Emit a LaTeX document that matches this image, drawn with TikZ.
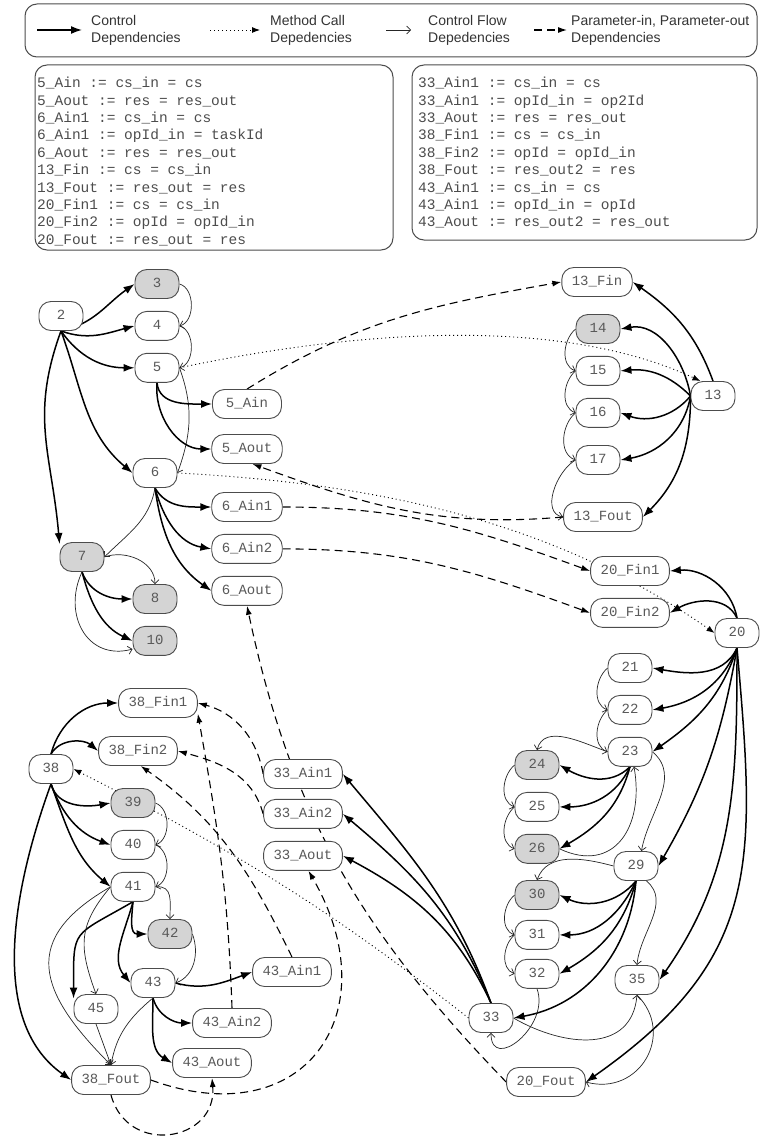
\documentclass[tikz,border=0pt]{standalone}
\usepackage{fontspec}
\setmainfont{Liberation Sans}
\newfontfamily\codefont{Liberation Mono}
\usetikzlibrary{arrows.meta,positioning}

\pgfdeclarelayer{edges}
\pgfsetlayers{edges,main}

\tikzset{
	stmt/.style={
		rectangle,
		rounded corners=12pt,
		draw=black!70,
		line width=0.9pt,
		fill=white,
		text=black!65,
		font=\codefont\fontsize{14}{16}\selectfont,
		minimum height=29pt,
		minimum width=44pt,
		inner xsep=10pt,
		text height=10pt,
		text depth=3pt,
	},
	marked/.style={
		stmt,
		fill=black!17,
	},
	actual/.style={
		stmt,
		minimum width=69pt,
	},
	frame/.style={
		rectangle,
		rounded corners=12pt,
		draw=black!70,
		line width=1pt,
	},
	codetext/.style={
		anchor=north west,
		inner sep=0pt,
		align=left,
		text=black!70,
		font=\codefont\fontsize{14.5}{17.4}\selectfont,
	},
	legtext/.style={
		anchor=west,
		inner sep=0pt,
		align=left,
		text=black!80,
		font=\fontsize{14}{17}\selectfont,
	},
	ctrl/.style={
		-{Latex[length=11pt,width=8pt]},
		line width=1.5pt,
	},
	call/.style={
		-{Latex[length=8pt,width=6pt]},
		line width=0.9pt,
		dash pattern=on 1pt off 3pt,
	},
	flow/.style={
		-{Straight Barb[length=4pt,width=8pt]},
		line width=0.7pt,
		black!85,
	},
	param/.style={
		-{Latex[length=9pt,width=6pt]},
		line width=1.1pt,
		dash pattern=on 8pt off 5pt,
	},
}

\begin{document}
\begin{tikzpicture}[x=1pt,y=1pt,node distance=12pt]
\useasboundingbox (0,0) rectangle (760,-1137);

% legend
\node[frame, minimum width=732pt, minimum height=53pt] (legend) at (391,-30.5) {};
\node[legtext] (lgA) at (91,-30) {Control\\Dependencies};
\node[legtext] (lgB) at (270,-30) {Method Call\\Depedencies};
\node[legtext] (lgC) at (428,-30) {Control Flow\\Depedencies};
\node[legtext] (lgD) at (571,-30) {Parameter-in, Parameter-out\\Dependencies};
\draw[ctrl] ([xshift=-54pt]lgA.west) -- ([xshift=-9pt]lgA.west);
\draw[call] ([xshift=-60pt]lgB.west) -- ([xshift=-10pt]lgB.west);
\draw[flow] ([xshift=-42pt]lgC.west) -- ([xshift=-17pt]lgC.west);
\draw[param] ([xshift=-37pt]lgD.west) -- ([xshift=-4pt]lgD.west);

% parameter bindings
\node[frame, minimum width=358pt, minimum height=185pt] (boxA) at (214,-157.5) {};
\node[codetext] (defsA) at (37,-77) {5\_Ain := cs\_in = cs\\
5\_Aout := res = res\_out\\
6\_Ain1 := cs\_in = cs\\
6\_Ain1 := opId\_in = taskId\\
6\_Aout := res = res\_out\\
13\_Fin := cs = cs\_in\\
13\_Fout := res\_out = res\\
20\_Fin1 := cs = cs\_in\\
20\_Fin2 := opId = opId\_in\\
20\_Fout := res\_out = res};
\node[frame, minimum width=345pt, minimum height=175pt] (boxB) at (584.5,-152.5) {};
\node[codetext] (defsB) at (418,-77) {33\_Ain1 := cs\_in = cs\\
33\_Ain1 := opId\_in = op2Id\\
33\_Aout := res = res\_out\\
38\_Fin1 := cs = cs\_in\\
38\_Fin2 := opId = opId\_in\\
38\_Fout := res\_out2 = res\\
43\_Ain1 := cs\_in = cs\\
43\_Ain1 := opId\_in = opId\\
43\_Aout := res\_out2 = res\_out};

% procedure of 2
\node[marked] (n3) at (157,-284) {3};
\node[stmt] (n2) at (61,-316) {2};
\node[stmt] (n4) [below=of n3] {4};
\node[stmt] (n5) [below=of n4] {5};
\node[actual] (a5in) at (247,-404) {5\_Ain};
\node[actual] (a5out) at (247,-449) {5\_Aout};
\node[stmt] (n6) at (155,-473) {6};
\node[actual] (a6in1) at (247,-507) {6\_Ain1};
\node[actual] (a6in2) [below=of a6in1] {6\_Ain2};
\node[actual] (a6out) [below=of a6in2] {6\_Aout};
\node[marked] (n7) at (82,-557) {7};
\node[marked] (n8) at (155,-599) {8};
\node[marked] (n10) [below=of n8] {10};

% procedure of 13
\node[actual] (f13in) at (597,-282) {13\_Fin};
\node[marked] (n14) at (598,-329) {14};
\node[stmt] (n15) [below=of n14] {15};
\node[stmt] (n16) [below=of n15] {16};
\node[stmt] (n17) at (598,-460) {17};
\node[actual] (f13out) at (603,-517) {13\_Fout};
\node[stmt] (n13) at (713,-396) {13};

% procedure of 20
\node[actual] (f20in1) at (630,-571) {20\_Fin1};
\node[actual] (f20in2) [below=of f20in1] {20\_Fin2};
\node[stmt] (n20) at (737,-633) {20};
\node[stmt] (n21) at (630,-668) {21};
\node[stmt] (n22) [below=of n21] {22};
\node[stmt] (n23) [below=of n22] {23};
\node[marked] (n24) at (537,-765) {24};
\node[stmt] (n25) [below=of n24] {25};
\node[marked] (n26) [below=of n25] {26};
\node[stmt] (n29) at (636,-866) {29};
\node[marked] (n30) at (537,-895) {30};
\node[stmt] (n31) [below=10pt of n30] {31};
\node[stmt] (n32) [below=9pt of n31] {32};
\node[stmt] (n35) at (637,-980) {35};
\node[stmt] (n33) at (491,-1018) {33};
\node[actual] (f20out) at (546,-1082) {20\_Fout};
\node[actual] (a33in1) at (303,-774) {33\_Ain1};
\node[actual] (a33in2) [below=10pt of a33in1] {33\_Ain2};
\node[actual] (a33out) [below=of a33in2] {33\_Aout};

% procedure of 38
\node[actual] (f38in1) at (158,-703) {38\_Fin1};
\node[actual] (f38in2) at (138,-751) {38\_Fin2};
\node[stmt] (n38) at (51,-769) {38};
\node[marked] (n39) at (133,-803) {39};
\node[stmt] (n40) [below=of n39] {40};
\node[stmt] (n41) [below=of n40] {41};
\node[marked] (n42) at (170,-934) {42};
\node[stmt] (n43) at (153,-983) {43};
\node[stmt] (n45) at (96,-1009) {45};
\node[actual] (a43in1) at (292,-972) {43\_Ain1};
\node[actual] (a43in2) at (232,-1023) {43\_Ain2};
\node[actual] (a43out) at (212,-1063) {43\_Aout};
\node[actual] (f38out) at (111,-1080) {38\_Fout};

\begin{pgfonlayer}{edges}
% node 2
\draw[ctrl] (n2.south) to[out=12,in=215] (n3.west);
\draw[ctrl] (n2.south) to[out=-20,in=195] (n4.west);
\draw[ctrl] (n2.south) to[out=-55,in=180] (n5.west);
\draw[ctrl] (n2.south) to[out=-70,in=140] (n6.west);
\draw[ctrl] (n2.south) to[out=-110,in=95,looseness=1.1] (n7.150);
\draw[flow] (n3.east) to[out=-15,in=15] (n4.east);
\draw[flow] (n4.east) to[out=-15,in=15] (n5.east);
\draw[flow] (n5.east) to[out=-70,in=70] (n6.east);

% nodes 5, 6, 7
\draw[ctrl] (n5.south) to[out=-85,in=180] (a5in.west);
\draw[ctrl] (n5.south) to[out=-95,in=180] (a5out.west);
\draw[ctrl] (n6.south) to[out=-60,in=180] (a6in1.west);
\draw[ctrl] (n6.south) to[out=-75,in=170] (a6in2.west);
\draw[ctrl] (n6.south) to[out=-82,in=145] (a6out.west);
\draw[flow] (n6.south) to[out=-100,in=45] (n7.east);
\draw[flow] (n7.east) to[out=20,in=90] (n8.north);
\draw[ctrl] (n7.south) to[out=-70,in=180] (n8.west);
\draw[ctrl] (n7.south) to[out=-75,in=155] (n10.west);
\draw[flow] (n7.south) to[out=-115,in=195,looseness=1.3] (n10.200);

% node 13
\draw[ctrl] (n13.north) to[out=110,in=-35] (f13in.east);
\draw[ctrl] (n13.west) to[out=100,in=10] (n14.east);
\draw[ctrl] (n13.west) to[out=135,in=5] (n15.east);
\draw[ctrl] (n13.west) to[out=-130,in=-20] (n16.east);
\draw[ctrl] (n13.west) to[out=-100,in=10] (n17.east);
\draw[ctrl] (n13.west) to[out=-90,in=45] (f13out.east);
\draw[flow] (n14.west) to[out=-140,in=160] (n15.west);
\draw[flow] (n15.west) to[out=-140,in=160] (n16.west);
\draw[flow] (n16.west) to[out=-140,in=160] (n17.west);
\draw[flow] (n17.west) to[out=-150,in=170] (f13out.west);

% calls
\draw[call] (n5.east) to[out=12,in=155,looseness=0.8] (n13.130);
\draw[call] (n6.east) to[out=-3,in=145,looseness=0.9] (n20.west);
\draw[call] (n33.west) to[out=142,in=-27] (n38.east);

% parameters of 5 and 6
\draw[param] (a5in.north) to[out=32,in=190] (f13in.west);
\draw[param] (f13out.west) to[out=185,in=-20] (a5out.-70);
\draw[param] (a6in1.east) to[out=0,in=160] (f20in1.west);
\draw[param] (a6in2.east) to[out=0,in=160] (f20in2.west);
\draw[param] (f20out.west) to[out=134,in=-78] (a6out.south);

% node 20
\draw[ctrl] (n20.north) to[out=100,in=5] (f20in1.east);
\draw[ctrl] (n20.north) to[out=115,in=30] (f20in2.east);
\draw[ctrl] (n20.south) to[out=-115,in=-10] (n21.east);
\draw[ctrl] (n20.south) to[out=-112,in=10] (n22.east);
\draw[ctrl] (n20.south) to[out=-108,in=35] (n23.east);
\draw[ctrl] (n20.south) to[out=-100,in=60] (n29.east);
\draw[ctrl] (n20.south) to[out=-90,in=55] (n35.east);
\draw[ctrl] (n20.south) to[out=-85,in=35,looseness=1.2] (f20out.east);
\draw[flow] (n21.west) to[out=-140,in=160] (n22.west);
\draw[flow] (n22.west) to[out=-140,in=160] (n23.west);
\draw[flow] (n23.west) to[out=160,in=75] (n24.north);
\draw[flow] (n23.east) to[out=-40,in=80] (n29.70);

% node 23
\draw[ctrl] (n23.south) to[out=-135,in=-30] (n24.east);
\draw[ctrl] (n23.south) to[out=-115,in=0] (n25.east);
\draw[ctrl] (n23.south) to[out=-105,in=30] (n26.east);
\draw[flow] (n24.west) to[out=-140,in=160] (n25.west);
\draw[flow] (n25.west) to[out=-140,in=160] (n26.west);
\draw[flow] (n26.east) to[out=-25,in=-80,looseness=1.4] (n23.-75);

% node 29
\draw[flow] (n29.west) to[out=165,in=70] (n30.north);
\draw[ctrl] (n29.south) to[out=-130,in=-25] (n30.east);
\draw[ctrl] (n29.south) to[out=-115,in=0] (n31.east);
\draw[ctrl] (n29.south) to[out=-105,in=30] (n32.east);
\draw[ctrl] (n29.south) to[out=-95,in=10] (n33.east);
\draw[flow] (n29.-55) to[out=-40,in=85] (n35.north);
\draw[flow] (n30.west) to[out=-140,in=160] (n31.west);
\draw[flow] (n31.west) to[out=-140,in=160] (n32.west);
\draw[flow] (n32.south) to[out=-70,in=-90,looseness=1.6] (n33.south);
\draw[flow] (n33.east) to[out=-30,in=-95,looseness=1.2] (n35.south);
\draw[flow] (n35.south) to[out=-45,in=-15,looseness=1.4] (f20out.east);

% node 33
\draw[ctrl] (n33.north) to[out=110,in=-50] (a33in1.east);
\draw[ctrl] (n33.north) to[out=112,in=-40] (a33in2.east);
\draw[ctrl] (n33.north) to[out=115,in=-28] (a33out.east);

% node 38
\draw[ctrl] (n38.north) to[out=75,in=180] (f38in1.west);
\draw[ctrl] (n38.north) to[out=60,in=140] (f38in2.west);
\draw[ctrl] (n38.south) to[out=-75,in=190] (n39.west);
\draw[ctrl] (n38.south) to[out=-70,in=160] (n40.west);
\draw[ctrl] (n38.south) to[out=-70,in=140] (n41.west);
\draw[ctrl] (n38.south) to[out=-110,in=145,looseness=0.9] (f38out.west);
\draw[flow] (n39.east) to[out=-20,in=20] (n40.east);
\draw[flow] (n40.east) to[out=-20,in=20] (n41.east);

% node 41
\draw[flow] (n41.east) to[out=5,in=90,looseness=1.3] (n42.north);
\draw[ctrl] (n41.south) to[out=-95,in=180,looseness=1.3] (n42.west);
\draw[ctrl] (n41.south) to[out=-105,in=130] (n43.west);
\draw[ctrl] (n41.south) to[out=-150,in=90,looseness=1.6] (n45.155);
\draw[flow] (n41.west) to[out=-130,in=110,looseness=1.2] (n45.north);
\draw[flow] (n41.west) to[out=-150,in=135,looseness=1.5] (f38out.north);
\draw[flow] (n42.east) to[out=-70,in=20] (n43.east);

% node 43
\draw[ctrl] (n43.east) to[out=-15,in=200] (a43in1.west);
\draw[ctrl] (n43.south) to[out=-75,in=180] (a43in2.west);
\draw[ctrl] (n43.south) to[out=-90,in=150] (a43out.west);
\draw[flow] (n43.south) to[out=-140,in=80] (f38out.north);
\draw[flow] (n45.south) -- (f38out.north);

% parameters of 33 and 43
\draw[param] (a33in1.west) to[out=100,in=-15] (f38in1.east);
\draw[param] (a33in2.west) to[out=105,in=-15] (f38in2.east);
\draw[param] (a43in1.north) to[out=116,in=-35] (f38in2.-80);
\draw[param] (a43in2.north) to[out=92,in=-80] (f38in1.-15);
\draw[param] (f38out.east) to[out=-20,in=-60,looseness=1.6] (a33out.-70);
\draw[param] (f38out.south) to[out=-75,in=-85,looseness=1.6] (a43out.south);
\end{pgfonlayer}

\end{tikzpicture}
\end{document}
